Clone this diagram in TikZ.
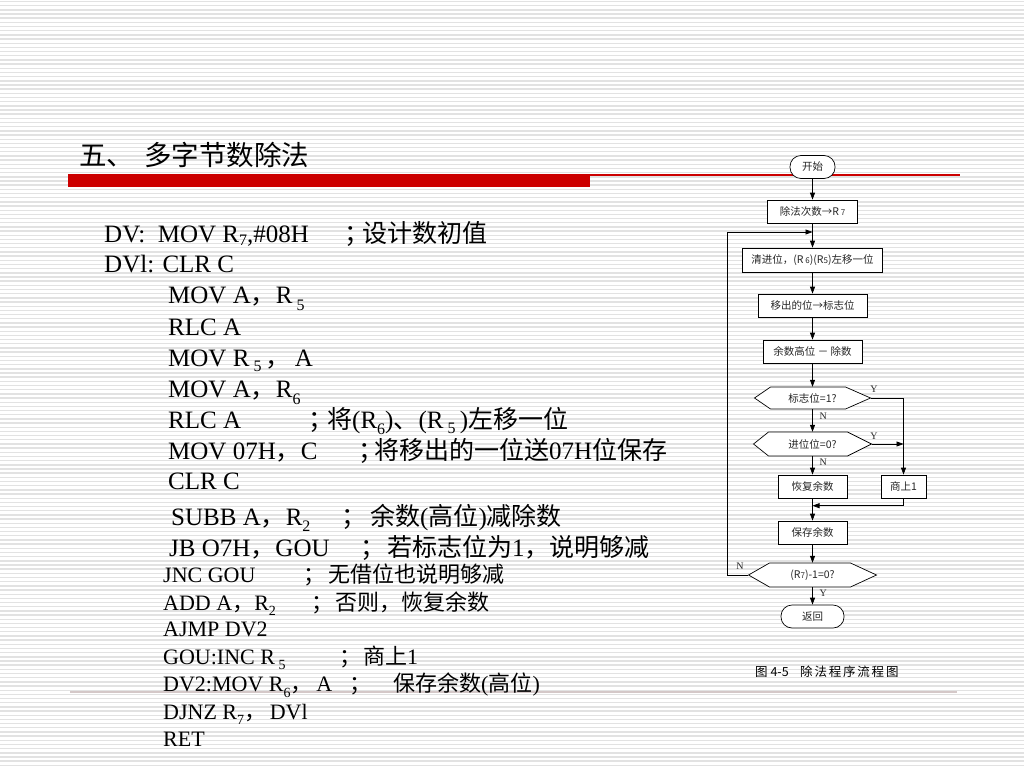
\documentclass[tikz,border=0pt]{standalone}
\usepackage{fontspec}
\setmainfont{Liberation Serif}
\newfontfamily\cjk{Noto Sans CJK SC}
\usetikzlibrary{arrows.meta,calc}
\definecolor{slidered}{RGB}{204,0,0}
\definecolor{stripegray}{RGB}{226,226,226}
\definecolor{faintline}{RGB}{212,200,200}
\newcommand{\dsub}[3]{\raisebox{-#1pt}{\fontsize{#2}{#2}\selectfont #3}}
\newcommand{\fsm}[1]{{\fontsize{8}{8}\selectfont #1}}
\newcommand{\hexnode}[8]{%
  \draw[ln, fill=white] (#2-#4/2, #3) -- (#2-#4/2+#6, #3-#5/2) -- (#2+#4/2-#7, #3-#5/2) -- (#2+#4/2, #3) -- (#2+#4/2-#7, #3+#5/2) -- (#2-#4/2+#6, #3+#5/2) -- cycle;
  \node[fnode, minimum width=#4pt, minimum height=#5pt] (#1) at (#2,#3) {#8};}
\begin{document}
\begin{tikzpicture}[x=1pt,y=-1pt,
  code/.style={anchor=base west, inner sep=0, font=\fontsize{25}{25}\selectfont},
  codes/.style={anchor=base west, inner sep=0, font=\fontsize{22}{22}\selectfont},
  fnode/.style={inner sep=0, font=\cjk\fontsize{10.5}{10.5}\selectfont, text=black!85},
  fbox/.style={fnode, draw, fill=white, line width=0.7pt},
  term/.style={fbox, rounded corners=11pt},
  arr/.style={line width=0.7pt, -{Triangle[length=7pt,width=5pt]}},
  ln/.style={line width=0.7pt},
  yn/.style={font=\fontsize{10}{10}\selectfont, inner sep=0, text=black!85},
]
\useasboundingbox (0,0) rectangle (1024,768);
\fill[white] (0,0) rectangle (1024,768);
\foreach \i in {0,...,184} {\draw[stripegray, line width=1.4pt] (0,{\i*4.174+1.5}) -- (1024,{\i*4.174+1.5});}

% title and rules
\node[anchor=base west, inner sep=0, font=\cjk\fontsize{27.5}{27.5}\selectfont] (title) at (79,165) {五、\hspace{10pt}多字节数除法};
\draw[slidered, line width=1.5pt] (68,175) -- (960,175);
\fill[slidered] (68,174.5) rectangle (590,187);
\draw[faintline, line width=1.2pt] (70,692) -- (957,692);

% code block
\node[code] (l1) at (104,242) {DV:\ \ MOV R\dsub{3.5}{16}{7},\#08H};
\node[code] (l1s) at (344,242) {\cjk ；};
\node[code] (l1c) at (362,242) {\cjk 设计数初值};
\node[code] (l2) at (104,272.5) {DVl: CLR C};
\node[code] (l3) at (168,303.5) {MOV A{\cjk ，}R\,\dsub{7}{16}{5}};
\node[code] (l4) at (168,335) {RLC A};
\node[code] (l5) at (168,366) {MOV R\,\dsub{5.5}{16}{5}\,{\cjk ，}\,A};
\node[code] (l6) at (168,397) {MOV A{\cjk ，}R\dsub{7}{16}{6}};
\node[code] (l7) at (168,428) {RLC A};
\node[code] (l7s) at (308,428) {\cjk ；};
\node[code] (l7c) at (327,428) {{\cjk 将}(R\dsub{6}{16}{6}){\cjk 、}(R\,\dsub{5}{16}{5}\,){\cjk 左移一位}};
\node[code] (l8) at (168,459) {MOV 07H{\cjk ，}C};
\node[code] (l8s) at (358,459) {\cjk ；};
\node[code] (l8c) at (374,459) {{\cjk 将移出的一位送}07H{\cjk 位保存}};
\node[code] (l9) at (168,489.5) {CLR C};
\node[code] (l10) at (171,525.5) {SUBB A{\cjk ，}R\dsub{6}{16}{2}};
\node[code] (l10s) at (341,525.5) {\cjk ；};
\node[code] (l10c) at (370,525.5) {{\cjk 余数}({\cjk 高位}){\cjk 减除数}};
\node[code] (l11) at (169,556) {JB O7H{\cjk ，}GOU};
\node[code] (l11s) at (360,556) {\cjk ；};
\node[code] (l11c) at (387,556) {{\cjk 若标志位为}1{\cjk ，说明够减}};
\node[codes] (l12) at (163,582) {JNC GOU};
\node[codes] (l12s) at (303,582) {\cjk ；};
\node[codes] (l12c) at (328,582) {\cjk 无借位也说明够减};
\node[codes] (l13) at (163,610) {ADD A{\cjk ，}R\dsub{5}{14}{2}};
\node[codes] (l13s) at (311,610) {\cjk ；};
\node[codes] (l13c) at (335,610) {\cjk 否则，恢复余数};
\node[codes] (l14) at (163,636.5) {AJMP DV2};
\node[codes] (l15) at (163,664) {GOU:INC R\,\dsub{5}{14}{5}};
\node[codes] (l15s) at (339,664) {\cjk ；};
\node[codes] (l15c) at (363,664) {{\cjk 商上}1};
\node[codes] (l16) at (163,691.5) {DV2:MOV R\dsub{6}{14}{6}{\cjk ，}\,A};
\node[codes] (l16s) at (349,691.5) {\cjk ；};
\node[codes] (l16c) at (393,691.5) {{\cjk 保存余数}({\cjk 高位})};
\node[codes] (l17) at (163,719) {DJNZ R\dsub{5}{14}{7}{\cjk ，}\,DVl};
\node[codes] (l18) at (163,746) {RET};

% flowchart
\node[term, minimum width=45pt, minimum height=23pt] (start) at (812.5,167) {开始};
\node[fbox, minimum width=90pt, minimum height=23pt] (b1) at (812.5,211.5) {除法次数→R\,\fsm{7}};
\node[fbox, minimum width=140pt, minimum height=24pt] (b2) at (812.5,260) {清进位，(R\,\fsm{6})(R\fsm{5})左移一位};
\node[fbox, minimum width=109pt, minimum height=23pt] (b3) at (812.5,305.5) {移出的位→标志位};
\node[fbox, minimum width=99pt, minimum height=23pt] (b4) at (812.5,351.5) {余数高位 － 除数};
\hexnode{d1}{812.5}{398}{116}{22}{16}{25}{标志位=1?}
\hexnode{d2}{812.5}{444}{118}{24}{15}{24}{进位位=0?}
\node[fbox, minimum width=69pt, minimum height=23pt] (b5) at (812.5,486.5) {恢复余数};
\node[fbox, minimum width=45pt, minimum height=23pt] (b6) at (903.5,486.5) {商上1};
\node[fbox, minimum width=69pt, minimum height=23pt] (b7) at (812.5,532.5) {保存余数};
\hexnode{d3}{812.5}{575}{128}{24}{21}{26}{(R\fsm{7})-1=0?}
\node[term, minimum width=63pt, minimum height=23pt] (end) at (812.5,616.5) {返回};

\coordinate (lp) at (812.5,232);
\coordinate (jn) at (812.5,505.7);
\draw[arr] (start) -- (b1);
\draw[arr] (b1) -- (b2);
\draw[arr] (b2) -- (b3);
\draw[arr] (b3) -- (b4);
\draw[arr] (b4) -- (d1);
\draw[arr] (d1) -- (d2);
\draw[arr] (d2) -- (b5);
\draw[arr] (d1.east) -| (b6.north);
\draw[arr] (d2.east) -- (d2.east -| b6.north);
\draw[arr] (b6.south) |- (jn);
\draw[arr] (b5) -- (b7);
\draw[arr] (b7) -- (d3);
\draw[arr] (d3) -- (end);
\draw[arr] (d3.west) -- ++(-21,0) |- (lp);

\node[yn] (y1) at (874,389) {Y};
\node[yn] (n1) at (823.3,416.7) {N};
\node[yn] (y2) at (874,436) {Y};
\node[yn] (n2) at (823.3,462.3) {N};
\node[yn] (n3) at (740,566.7) {N};
\node[yn] (y3) at (823.3,593.3) {Y};

% caption
\node[anchor=base west, inner sep=0, font=\cjk\fontsize{12.5}{12.5}\selectfont] (capa) at (755,676.5) {图 4-5};
\node[anchor=base west, inner sep=0, font=\cjk\fontsize{12.5}{12.5}\selectfont] (capb) at (800,676.5) {除\kern1.8pt 法\kern1.8pt 程\kern1.8pt 序\kern1.8pt 流\kern1.8pt 程\kern1.8pt 图};
\end{tikzpicture}
\end{document}
